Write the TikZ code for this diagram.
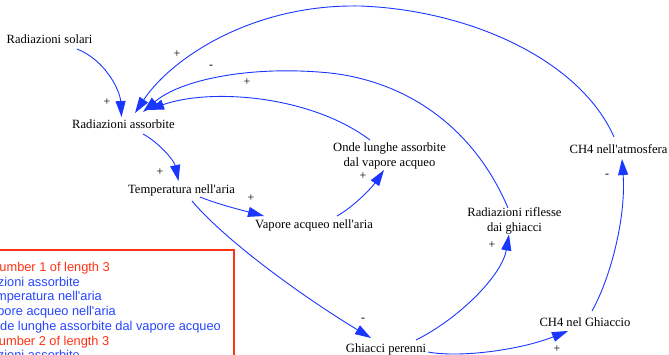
\documentclass[tikz,border=0pt]{standalone}
\usepackage{fontspec}
\newfontfamily\serif{Liberation Serif}
\newfontfamily\boxfont{Liberation Sans}
\usetikzlibrary{arrows.meta}
\definecolor{linkblue}{RGB}{25,55,255}
\definecolor{loopred}{RGB}{255,50,20}
\definecolor{loopblue}{RGB}{40,70,255}
\tikzset{
 var/.style={inner sep=0pt, font=\serif\fontsize{12.6}{15}\selectfont, text height=8.6pt, text depth=2.6pt, anchor=center},
 vartwo/.style={inner sep=0pt, font=\serif\fontsize{12.6}{15}\selectfont, align=center},
 link/.style={draw=linkblue, line width=0.9pt, -{Triangle[length=16pt,width=10pt]}},
 pol/.style={inner sep=0pt, font=\serif\fontsize{12}{14}\selectfont},
 looptxt/.style={inner sep=0pt, font=\boxfont\fontsize{12.8}{15}\selectfont, anchor=base east},
}
\begin{document}
\begin{tikzpicture}[x=1pt,y=-1pt]
\useasboundingbox (0,0) rectangle (669,355);
\clip (0,0) rectangle (669,355);
\fill[white] (0,0) rectangle (669,355);

% variables
\node[var] (sol) at (49.5,41) {Radiazioni solari};
\node[var] (ass) at (123.5,126) {Radiazioni assorbite};
\node[var] (tem) at (181.5,191) {Temperatura nell'aria};
\node[var] (vap) at (314,226) {Vapore acqueo nell'aria};
\node[vartwo] (ond) at (389.5,155.5) {Onde lunghe assorbite\\dal vapore acqueo};
\node[var] (ch4a) at (618.5,151) {CH4 nell'atmosfera};
\node[vartwo] (rif) at (514.5,220.5) {Radiazioni riflesse\\dai ghiacci};
\node[var] (ghi) at (386,349) {Ghiacci perenni};
\node[var] (ch4g) at (585,323) {CH4 nel Ghiaccio};

\coordinate (rifvia) at (330,73);
\coordinate (chvia) at (360,6);

% links
\draw[link] ([shift={(27.5,8)}]sol.center) .. controls (105,60) and (120,90) .. ([shift={(-2,-9)}]ass.center);
\draw[link] ([shift={(19.5,8)}]ass.center) .. controls (158,142) and (174,160) .. ([shift={(-3,-10)}]tem.center);
\draw[link] ([shift={(18.5,6)}]tem.center) .. controls (220,205) and (245,211) .. ([shift={(-50,-10)}]vap.center);
\draw[link] ([shift={(23,-10)}]vap.center) .. controls (355,206) and (373,186) .. ([shift={(-5.5,14.5)}]ond.center);
\draw[link] ([shift={(-19.5,-15.5)}]ond.center) .. controls (310,95) and (210,88) .. ([shift={(24.5,-16)}]ass.center);
\draw[link] ([shift={(-6.5,-12.5)}]rif.center) .. controls (475,130) and (410,82) .. (rifvia) .. controls (250,65) and (180,80) .. ([shift={(19.5,-14)}]ass.center);
\draw[link] ([shift={(-4.5,-14)}]ch4a.center) .. controls (580,60) and (470,10) .. (chvia) .. controls (250,4) and (170,60) .. ([shift={(11.5,-13)}]ass.center);
\draw[link] ([shift={(10.5,10)}]tem.center) .. controls (225,240) and (300,295) .. ([shift={(-15,-11)}]ghi.center);
\draw[link] ([shift={(30,-9)}]ghi.center) .. controls (460,318) and (502,275) .. ([shift={(-5.5,14)}]rif.center);
\draw[link] ([shift={(42,3)}]ghi.center) .. controls (460,358) and (520,350) .. ([shift={(-17,8)}]ch4g.center);
\draw[link] ([shift={(7,-12)}]ch4g.center) .. controls (612,275) and (626,215) .. ([shift={(3.5,8)}]ch4a.center);

% polarities
\node[pol] (p1) at (107,102) {+};
\node[pol] (p2) at (160,172) {+};
\node[pol] (p3) at (251,198) {+};
\node[pol] (p4) at (363,176) {+};
\node[pol] (p5) at (177,54) {+};
\node[pol] (p6) at (211,67) {-};
\node[pol] (p7) at (247,82) {+};
\node[pol] (p8) at (363,320) {-};
\node[pol] (p9) at (492,245) {+};
\node[pol] (p10) at (557,349) {+};
\node[pol] (p11) at (607,176) {-};

% loop report box
\draw[loopred, line width=2pt] (-10,250) rectangle (234,370);
\node[looptxt, text=loopred] (l1) at (110,271.5) {Loop Number 1 of length 3};
\node[looptxt, text=loopblue] (l2) at (80,286.2) {Radiazioni assorbite};
\node[looptxt, text=loopblue] (l3) at (102,300.9) {Temperatura nell'aria};
\node[looptxt, text=loopblue] (l4) at (116,315.6) {Vapore acqueo nell'aria};
\node[looptxt, text=loopblue] (l5) at (221,330.3) {Onde lunghe assorbite dal vapore acqueo};
\node[looptxt, text=loopred] (l6) at (109.5,345) {Loop Number 2 of length 3};
\node[looptxt, text=loopblue] (l7) at (80,359.7) {Radiazioni assorbite};
\end{tikzpicture}
\end{document}
